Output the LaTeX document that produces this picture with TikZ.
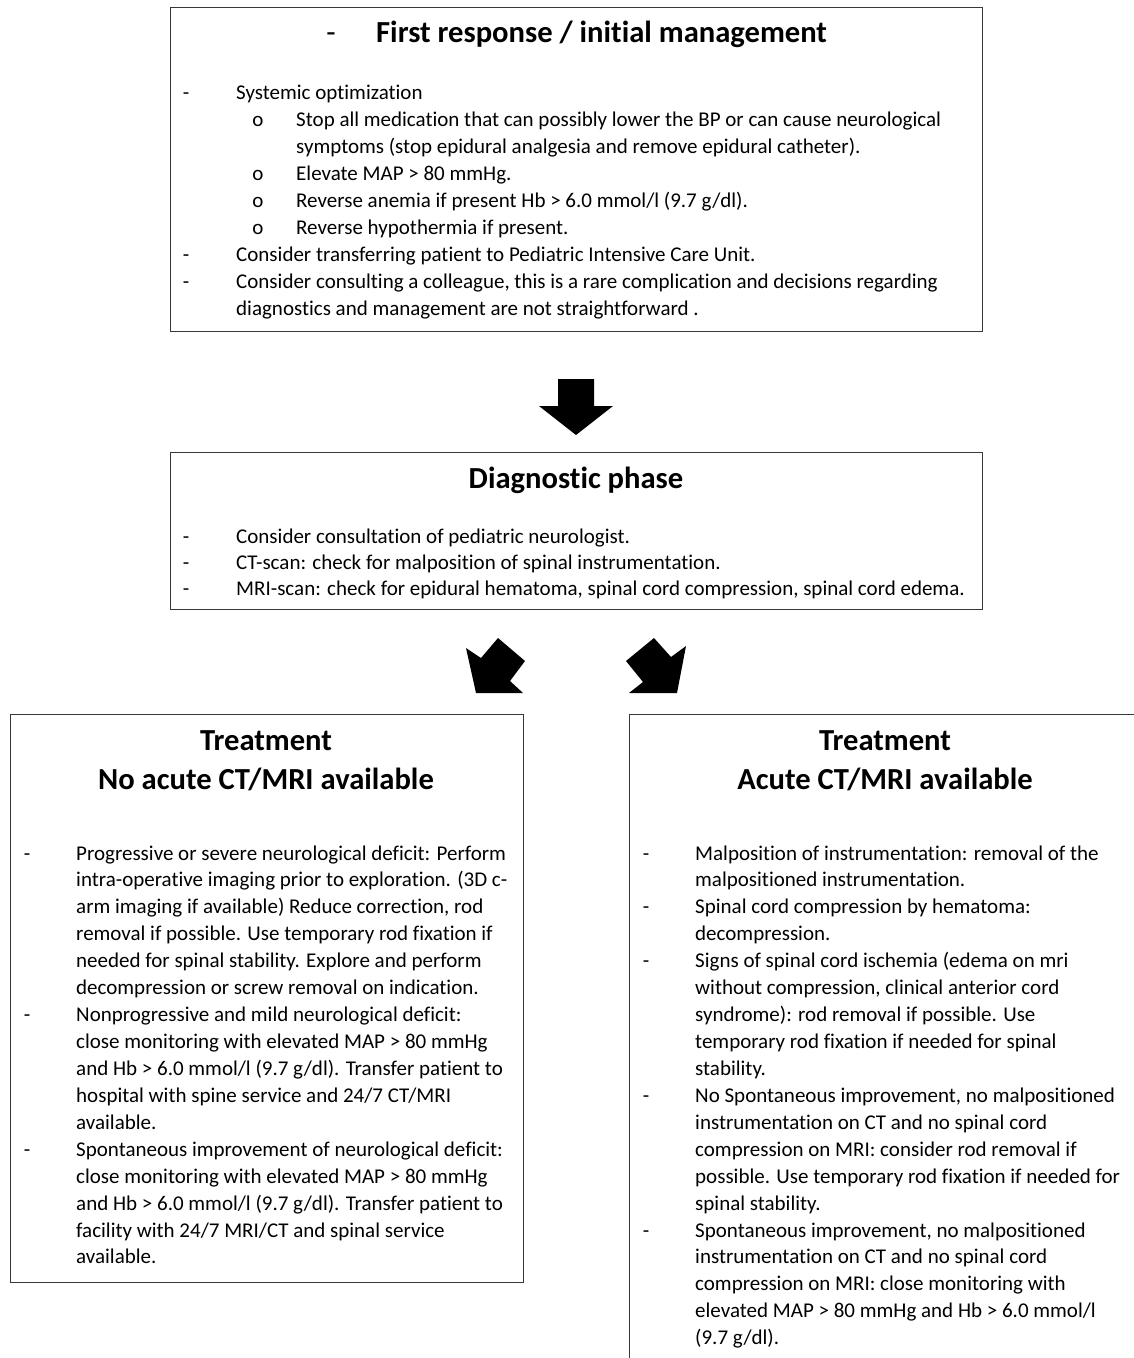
\documentclass[tikz,border=0pt]{standalone}
\usepackage{fontspec}
\setmainfont{Carlito}[Ligatures={NoCommon,NoContextual}]
\begin{document}
\begin{tikzpicture}[x=1pt,y=-1pt,
  panel/.style={draw=black!78, line width=1.3pt, anchor=north west, inner sep=0pt},
  body/.style={anchor=base west, inner sep=0pt, font=\fontsize{21}{27}\selectfont},
  bulletmk/.style={anchor=base, inner sep=0pt, font=\fontsize{21}{27}\selectfont},
  head/.style={anchor=base, inner sep=0pt, font=\bfseries\fontsize{30.6}{39}\selectfont},
  headw/.style={anchor=base west, inner sep=0pt, font=\bfseries\fontsize{30.6}{39}\selectfont},
  blockarrow/.style={fill=black}]
\useasboundingbox (0,0) rectangle (1134,1358);
\clip (0,0) rectangle (1134,1358);
\fill[white] (0,0) rectangle (1134,1358);

% boxes
\node[panel, minimum width=812pt, minimum height=324pt] (first) at (170,7) {};
\node[panel, minimum width=812pt, minimum height=157pt] (diag) at (170,452) {};
\node[panel, minimum width=513pt, minimum height=568pt] (left) at (10,714) {};
\node[panel, minimum width=600pt, minimum height=700pt] (right) at (629,714) {};

% block arrows
\fill[blockarrow] (558,379) -- (594,379) -- (594,406) -- (613,406) -- (576,435) -- (539,406) -- (558,406) -- cycle;
\fill[blockarrow] (466,648) -- (481,658) -- (498,638) -- (525,661) -- (510,681) -- (523,693) -- (476,693) -- cycle;
\fill[blockarrow] (626,661) -- (654,638) -- (671,657) -- (686,646) -- (677,693) -- (629,693) -- (643,682) -- cycle;

% first response box
\node[anchor=base, inner sep=0pt, font=\fontsize{30.6}{39}\selectfont] (fdash) at (331,42) {-};
\node[headw] (ftitle) at (376,42) {First response / initial management};
\node[bulletmk] (fd1) at (186,99) {-};
\node[body] (f1) at (236,99) {Systemic optimization};
\node[bulletmk] (fo1) at (258,126) {o};
\node[body] (f2) at (296,126) {Stop all medication that can possibly lower the BP or can cause neurological};
\node[body] (f3) at (296,153) {symptoms (stop epidural analgesia and remove epidural catheter).};
\node[bulletmk] (fo2) at (258,180) {o};
\node[body] (f4) at (296,180) {Elevate MAP > 80 mmHg.};
\node[bulletmk] (fo3) at (258,207) {o};
\node[body] (f5) at (296,207) {Reverse anemia if present Hb > 6.0 mmol/l (9.7 g/dl).};
\node[bulletmk] (fo4) at (258,234) {o};
\node[body] (f6) at (296,234) {Reverse hypothermia if present.};
\node[bulletmk] (fd2) at (186,261) {-};
\node[body] (f7) at (236,261) {Consider transferring patient to Pediatric Intensive Care Unit.};
\node[bulletmk] (fd3) at (186,288) {-};
\node[body] (f8) at (236,288) {Consider consulting a colleague, this is a rare complication and decisions regarding};
\node[body] (f9) at (236,315) {diagnostics and management are not straightforward .};

% diagnostic box
\node[head] (dtitle) at (576,488) {Diagnostic phase};
\node[bulletmk] (dd1) at (186,543) {-};
\node[body] (d1) at (236,543) {Consider consultation of pediatric neurologist.};
\node[bulletmk] (dd2) at (186,569) {-};
\node[body] (d2) at (236,569) {CT-scan: check for malposition of spinal instrumentation.};
\node[bulletmk] (dd3) at (186,595) {-};
\node[body] (d3) at (236,595) {MRI-scan: check for epidural hematoma, spinal cord compression, spinal cord edema.};

% left treatment box
\node[head] (lt1) at (266,750) {Treatment};
\node[head] (lt2) at (266,789) {No acute CT/MRI available};
\foreach \k in {0,6,11} \node[bulletmk] (ld\k) at (27,{860+26.93*\k}) {-};
\foreach \txt [count=\i from 0] in {
  {Progressive or severe neurological deficit: Perform},
  {intra-operative imaging prior to exploration. (3D c-},
  {arm imaging if available) Reduce correction, rod},
  {removal if possible. Use temporary rod fixation if},
  {needed for spinal stability. Explore and perform},
  {decompression or screw removal on indication.},
  {Nonprogressive and mild neurological deficit:},
  {close monitoring with elevated MAP > 80 mmHg},
  {and Hb > 6.0 mmol/l (9.7 g/dl). Transfer patient to},
  {hospital with spine service and 24/7 CT/MRI},
  {available.},
  {Spontaneous improvement of neurological deficit:},
  {close monitoring with elevated MAP > 80 mmHg},
  {and Hb > 6.0 mmol/l (9.7 g/dl). Transfer patient to},
  {facility with 24/7 MRI/CT and spinal service},
  {available.}}
  \node[body] (l\i) at (76,{860+26.93*\i}) {\txt};

% right treatment box
\node[head] (rt1) at (885,750) {Treatment};
\node[head] (rt2) at (885,789) {Acute CT/MRI available};
\foreach \k in {0,2,4,9,14} \node[bulletmk] (rd\k) at (646,{860+26.93*\k}) {-};
\foreach \txt [count=\i from 0] in {
  {Malposition of instrumentation: removal of the},
  {malpositioned instrumentation.},
  {Spinal cord compression by hematoma:},
  {decompression.},
  {Signs of spinal cord ischemia (edema on mri},
  {without compression, clinical anterior cord},
  {syndrome): rod removal if possible. Use},
  {temporary rod fixation if needed for spinal},
  {stability.},
  {No Spontaneous improvement, no malpositioned},
  {instrumentation on CT and no spinal cord},
  {compression on MRI: consider rod removal if},
  {possible. Use temporary rod fixation if needed for},
  {spinal stability.},
  {Spontaneous improvement, no malpositioned},
  {instrumentation on CT and no spinal cord},
  {compression on MRI: close monitoring with},
  {elevated MAP > 80 mmHg and Hb > 6.0 mmol/l},
  {(9.7 g/dl).}}
  \node[body] (r\i) at (695,{860+26.93*\i}) {\txt};
\end{tikzpicture}
\end{document}
